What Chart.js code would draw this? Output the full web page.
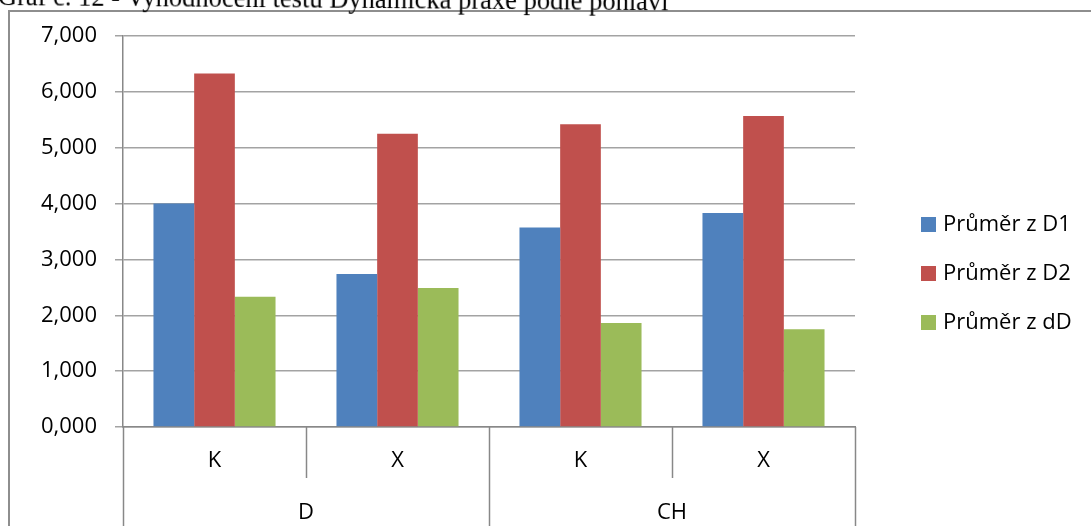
<!DOCTYPE html>
<html>
<head>
<meta charset="utf-8">
<script src="https://cdn.jsdelivr.net/npm/chart.js@4"></script>
<style>
  body { margin: 0; background: #fff; overflow: hidden; }
  #wrap { position: relative; width: 1091px; height: 526px; }
  #title {
    position: absolute; left: -2px; top: -19px; white-space: nowrap;
    font-family: "Liberation Serif", serif; font-size: 26.5px; color: #000;
    transform: rotate(0.45deg); transform-origin: 0 0; z-index: 2;
  }
</style>
</head>
<body>
<div id="wrap">
  <div id="title">Graf č. 12 - Vyhodnocení testu Dynamická praxe podle pohlaví</div>
  <canvas id="myChart" width="1091" height="526"></canvas>
</div>
<script>
// categories (inner row) and groups (outer row)
const innerLabels = ['K', 'X', 'K', 'X'];
const outerLabels = ['D', 'CH'];

// series
const seriesNames = ['Průměr z D1', 'Průměr z D2', 'Průměr z dD'];
const d1 = [4.00, 2.74, 3.57, 3.83];
const d2 = [6.33, 5.25, 5.42, 5.57];
const dD = [2.33, 2.49, 1.86, 1.75];

const colors = ['#4F81BD', '#C0504D', '#9BBB59'];
const gridGray = '#a3a3a3';
const axisGray = '#888888';
const labelFont = '"Open Sans", sans-serif';

// draws the frame, the two row category separators, the group labels and the legend
const extras = {
  id: 'extras',
  afterDraw(chart) {
    const ctx = chart.ctx;
    const x = chart.scales.x;
    const area = chart.chartArea;
    const half = (x.getPixelForValue(1) - x.getPixelForValue(0)) / 2;
    ctx.save();

    // outer frame (only left + top visible)
    ctx.strokeStyle = '#8e8e8e';
    ctx.lineWidth = 2;
    ctx.beginPath();
    ctx.moveTo(9, 526);
    ctx.lineTo(9, 11);
    ctx.lineTo(1091, 11);
    ctx.stroke();

    // separators below the axis
    ctx.strokeStyle = axisGray;
    ctx.lineWidth = 1.5;
    for (let i = 0; i <= innerLabels.length; i++) {
      const px = Math.round(x.getPixelForValue(i) - half) + 0.5;
      const full = i % 2 === 0;
      ctx.beginPath();
      ctx.moveTo(px, area.bottom);
      ctx.lineTo(px, full ? 526 : 478);
      ctx.stroke();
    }

    // outer group labels
    ctx.fillStyle = '#000';
    ctx.font = '22px ' + labelFont;
    ctx.textAlign = 'center';
    ctx.textBaseline = 'middle';
    outerLabels.forEach((lab, g) => {
      const mid = (x.getPixelForValue(g * 2) + x.getPixelForValue(g * 2 + 1)) / 2;
      ctx.fillText(lab, mid, 513);
    });

    // legend
    ctx.font = '22px ' + labelFont;
    ctx.textAlign = 'left';
    chart.data.datasets.forEach((ds, i) => {
      const top = 217 + i * 49;
      ctx.fillStyle = ds.backgroundColor;
      ctx.fillRect(921, top, 15, 15);
      ctx.fillStyle = '#000';
      ctx.fillText(ds.label, 943, top + 8);
    });
    ctx.restore();
  }
};

const myChart = document.getElementById('myChart');

new Chart(myChart, {
  type: 'bar',
  data: {
    labels: innerLabels,
    datasets: [
      { label: seriesNames[0], data: d1, backgroundColor: colors[0] },
      { label: seriesNames[1], data: d2, backgroundColor: colors[1] },
      { label: seriesNames[2], data: dD, backgroundColor: colors[2] }
    ]
  },
  options: {
    responsive: false,
    animation: false,
    categoryPercentage: 0.667,
    barPercentage: 1,
    layout: { padding: { left: 0, top: 36, right: 236, bottom: 0 } },
    plugins: {
      legend: { display: false },
      tooltip: { enabled: false }
    },
    scales: {
      x: {
        afterFit: s => { s.height = 99; },
        grid: { display: true, drawOnChartArea: false, drawTicks: false },
        border: { color: axisGray, width: 1.5 },
        ticks: { color: '#000', font: { family: labelFont, size: 22 }, padding: 21 }
      },
      y: {
        min: 0,
        max: 7,
        afterFit: s => { s.width = 123; },
        border: { color: axisGray, width: 1.5 },
        grid: { color: gridGray, lineWidth: 1.5, tickLength: 8 },
        ticks: {
          stepSize: 1,
          padding: 18,
          color: '#000',
          font: { family: labelFont, size: 22 },
          callback: v => v.toFixed(3).replace('.', ',')
        }
      }
    }
  },
  plugins: [extras]
});
</script>
</body>
</html>
